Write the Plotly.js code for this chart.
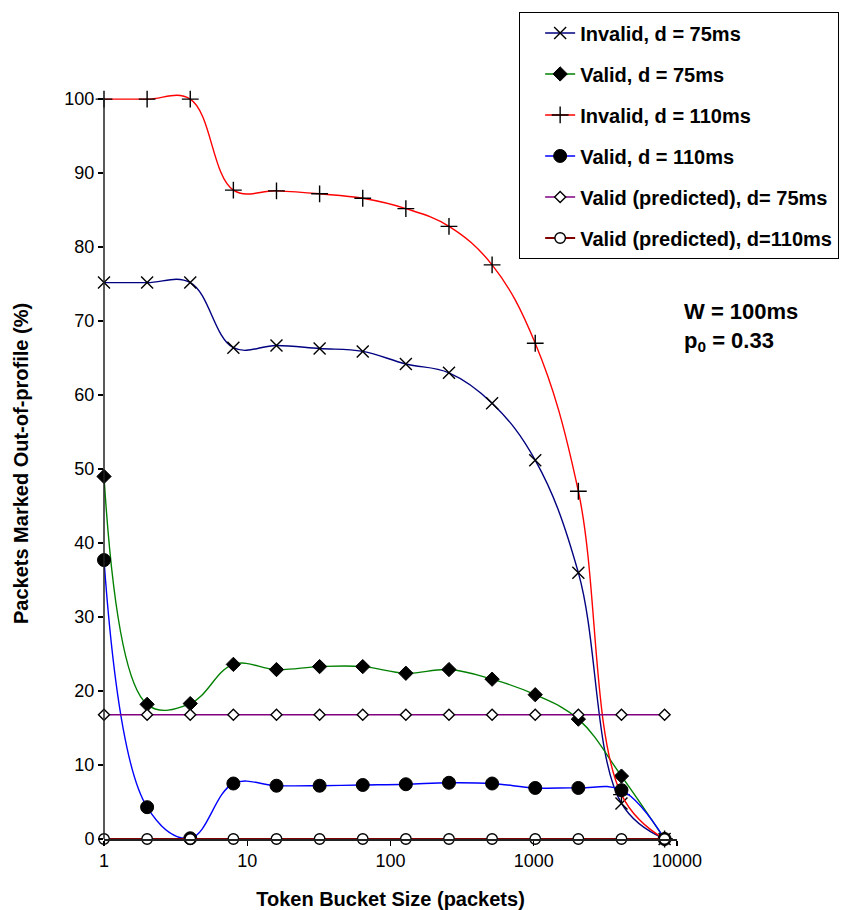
<!DOCTYPE html>
<html>
<head>
<meta charset="utf-8">
<script src="https://cdn.plot.ly/plotly-3.0.1.min.js"></script>
<style>html,body{margin:0;padding:0;background:#fff;}#chart{width:852px;height:910px;}</style>
</head>
<body>
<div id="chart"></div>
<script>
// Token bucket sizes (packets)
var bucketSizes = [1, 2, 4, 8, 16, 32, 64, 128, 256, 512, 1024, 2048, 4096, 8192];

// Packets marked out-of-profile (%)
var invalid75  = [75.2, 75.2, 75.2, 66.4, 66.7, 66.3, 65.9, 64.2, 63.0, 58.9, 51.2, 36.0, 4.8, 0];
var valid75    = [49.0, 18.2, 18.3, 23.6, 22.9, 23.3, 23.3, 22.4, 22.9, 21.6, 19.5, 16.2, 8.5, 0];
var invalid110 = [100, 100, 100, 87.7, 87.6, 87.2, 86.6, 85.2, 82.8, 77.6, 67.0, 47.0, 6.0, 0];
var valid110   = [37.7, 4.3, 0.1, 7.5, 7.2, 7.2, 7.3, 7.4, 7.6, 7.5, 6.9, 6.9, 6.6, 0];
var predicted75  = [16.8, 16.8, 16.8, 16.8, 16.8, 16.8, 16.8, 16.8, 16.8, 16.8, 16.8, 16.8, 16.8, 16.8];
var predicted110 = [0, 0, 0, 0, 0, 0, 0, 0, 0, 0, 0, 0, 0, 0];

var seriesNames = [
  'Invalid, d = 75ms',
  'Valid, d = 75ms',
  'Invalid, d = 110ms',
  'Valid, d = 110ms',
  'Valid (predicted), d= 75ms',
  'Valid (predicted), d=110ms'
];
var xTickVals = [1, 10, 100, 1000, 10000];
var xTickText = ['1', '10', '100', '1000', '10000'];
var yTickVals = [0, 10, 20, 30, 40, 50, 60, 70, 80, 90, 100];

var FONT = '"Liberation Sans", Arial, sans-serif';

function tr(y, name, lineColor, lineWidth, marker, group) {
  return {
    x: bucketSizes, y: y, name: name, type: 'scatter', mode: 'lines+markers',
    line: {color: lineColor, width: lineWidth, shape: 'spline', smoothing: 1.1},
    marker: marker, legendgroup: group, cliponaxis: false
  };
}

var data = [
  tr(invalid75, seriesNames[0], '#000080', 1.4,
     {symbol: 'x-thin', size: 12, color: '#000', line: {color: '#000', width: 1.4}}, 'g1'),
  tr(valid75, seriesNames[1], '#008000', 1.4,
     {symbol: 'diamond', size: 11, color: '#000', line: {color: '#000', width: 1}}, 'g2'),
  tr(invalid110, seriesNames[2], '#FF0000', 1.4,
     {symbol: 'cross-thin', size: 12, color: '#000', line: {color: '#000', width: 1.4}}, 'g3'),
  tr(valid110, seriesNames[3], '#0000FF', 1.4,
     {symbol: 'circle', size: 13, color: '#000', line: {color: '#000', width: 1}}, 'g4'),
  tr(predicted75, seriesNames[4], '#800080', 1.6,
     {symbol: 'diamond', size: 8.5, color: '#fff', line: {color: '#000', width: 1.4}}, 'g5'),
  tr(predicted110, seriesNames[5], '#800000', 2,
     {symbol: 'circle', size: 10.5, color: '#fff', line: {color: '#000', width: 1.4}}, 'g6')
];

var layout = {
  width: 852, height: 910,
  margin: {l: 104, r: 175, t: 86, b: 71, pad: 0},
  paper_bgcolor: '#fff', plot_bgcolor: '#fff',
  font: {family: FONT, color: '#000', size: 18},
  showlegend: true,
  legend: {
    x: 0.724, y: 1.101, xanchor: 'left', yanchor: 'top',
    bgcolor: '#fff', bordercolor: '#000', borderwidth: 1.3,
    font: {family: FONT, size: 20, color: '#000', weight: 'bold'},
    traceorder: 'grouped', tracegroupgap: 12, indentation: 20, itemwidth: 30
  },
  xaxis: {
    type: 'log', range: [0, 4], autorange: false,
    tickvals: xTickVals, ticktext: xTickText,
    ticks: 'outside', ticklen: 5, tickwidth: 1.3, tickcolor: '#000',
    showline: true, linecolor: '#222', linewidth: 1.5,
    showgrid: false, zeroline: false,
    tickfont: {family: FONT, size: 18, color: '#000'},
    title: {text: 'Token Bucket Size (packets)', standoff: 22,
            font: {family: FONT, size: 20, color: '#000', weight: 'bold'}}
  },
  yaxis: {
    range: [0, 101.5], autorange: false,
    tickvals: yTickVals,
    ticks: 'outside', ticklen: 5, tickwidth: 1.3, tickcolor: '#000',
    showline: false, showgrid: false, zeroline: false,
    tickfont: {family: FONT, size: 18, color: '#000'},
    title: {text: 'Packets Marked Out-of-profile (%)', standoff: 30,
            font: {family: FONT, size: 20, color: '#000', weight: 'bold'}}
  },
  shapes: [
    {type: 'line', xref: 'paper', yref: 'y', x0: 0, x1: 0, y0: 0, y1: 100,
     line: {color: '#222', width: 1.5}, layer: 'above'}
  ],
  annotations: [
    {xref: 'paper', yref: 'paper', x: 1.0105, y: 0.72, xanchor: 'left', yanchor: 'top',
     align: 'left', showarrow: false, borderpad: 0,
     text: 'W = 100ms<br>p<sub>0</sub> = 0.33',
     font: {family: FONT, size: 22, color: '#000', weight: 'bold'}}
  ]
};

Plotly.newPlot('chart', data, layout, {displayModeBar: false, staticPlot: true});
</script>
</body>
</html>
